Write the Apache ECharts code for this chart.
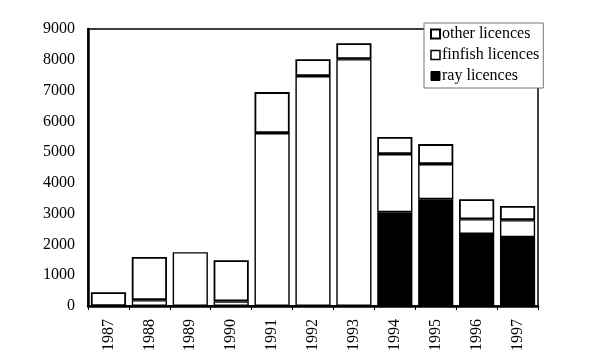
<!DOCTYPE html>
<html><head><meta charset="utf-8">
<script src="https://cdn.jsdelivr.net/npm/echarts@6/dist/echarts.min.js"></script>
<style>html,body{margin:0;padding:0;background:#fff}#c{width:600px;height:364px}</style>
</head><body><div id="c"></div>
<script>
const years = ['1987','1988','1989','1990','1991','1992','1993','1994','1995','1996','1997'];
const rayLicences = [null,null,null,null,null,null,null,3050,3470,2340,2240];
const finfishLicences = [null,190,1750,150,5620,7470,8020,1885,1140,480,550];
const otherLicences = [450,1400,null,1340,1330,550,520,555,650,650,460];
const yTicks = [0,1000,2000,3000,4000,5000,6000,7000,8000,9000];

const font = '"Liberation Serif","DejaVu Serif",serif';
const chart = echarts.init(document.getElementById('c'));
const barStyle = (fill, w) => ({color: fill, borderColor: '#000', borderWidth: w});
chart.setOption({
  animation: false,
  backgroundColor: '#fff',
  grid: {left: 88, right: 62, top: 29, bottom: 58, show: true, borderColor: '#000', borderWidth: 1.5, backgroundColor: 'transparent'},
  legend: {
    orient: 'vertical', left: 424, top: 23,
    backgroundColor: '#fff', borderColor: '#777', borderWidth: 1,
    padding: [3, 4, 4, 6], itemGap: 5, itemWidth: 9, itemHeight: 9,
    textStyle: {fontFamily: font, fontSize: 16, color: '#000', padding: [0,0,0,-3]},
    data: [
      {name: 'other licences', icon: 'rect', itemStyle: {color: '#fff', borderColor: '#000', borderWidth: 2}},
      {name: 'finfish licences', icon: 'rect', itemStyle: {color: '#fff', borderColor: '#000', borderWidth: 1.5}},
      {name: 'ray licences', icon: 'rect', itemStyle: {color: '#000', borderColor: '#000', borderWidth: 1}}
    ]
  },
  xAxis: {
    type: 'category', data: years,
    axisLine: {lineStyle: {color: '#000', width: 2.5}},
    axisTick: {show: true, length: 4, lineStyle: {color: '#000', width: 1}},
    axisLabel: {rotate: 90, margin: 13, fontFamily: font, fontSize: 16, color: '#000'}
  },
  yAxis: {
    type: 'value', min: 0, max: 9000, interval: 1000,
    axisLine: {show: true, lineStyle: {color: '#000', width: 2.5}},
    axisTick: {show: false},
    splitLine: {show: false},
    axisLabel: {margin: 13, fontFamily: font, fontSize: 16, color: '#000',
      formatter: v => yTicks.includes(v) ? String(v) : ''}
  },
  series: [
    {name: 'ray licences', type: 'bar', stack: 's', data: rayLicences, barCategoryGap: '14%', itemStyle: barStyle('#000', 1.6)},
    {name: 'finfish licences', type: 'bar', stack: 's', data: finfishLicences, itemStyle: barStyle('#fff', 1.4)},
    {name: 'other licences', type: 'bar', stack: 's', data: otherLicences, itemStyle: barStyle('#fff', 1.8)}
  ]
});
</script></body></html>
